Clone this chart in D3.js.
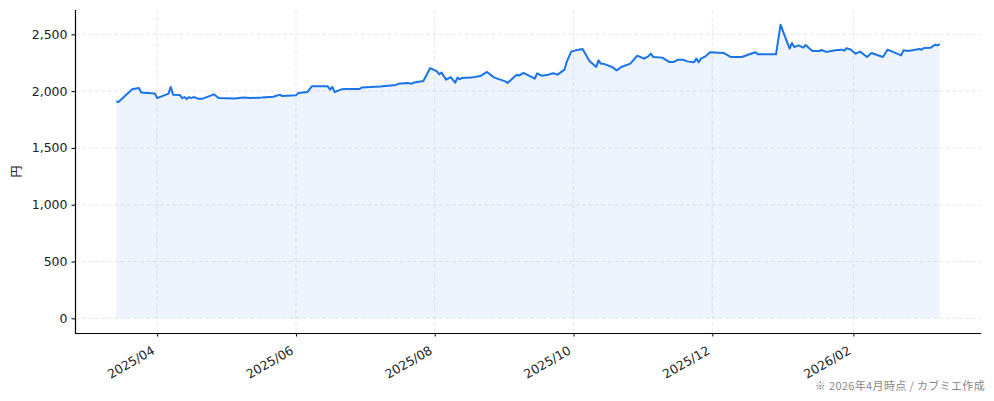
<!DOCTYPE html>
<html>
<head>
    <meta charset="utf-8">
    <script src="https://cdnjs.cloudflare.com/ajax/libs/d3/7.8.5/d3.min.js"></script>
    <style>
        body { margin: 0; background: #fff; }
        .tick text {
            font-family: "DejaVu Sans", sans-serif;
            font-size: 12px;
            fill: #222;
        }
        .grid line {
            stroke: #e2e2e2;
            stroke-width: 0.8px;
            stroke-dasharray: 4,2.5;
        }
        .note {
            font-family: "Noto Sans CJK JP", sans-serif;
            font-size: 11px;
            letter-spacing: 0.35px;
            fill: #888;
        }
    </style>
</head>
<body>
    <div id="chart"></div>
    <script>
        const width = 994, height = 401;
        const margin = { top: 10, right: 13, bottom: 68, left: 75 };

        // price series
        const dates = ["2025-03-14","2025-03-15","2025-03-21","2025-03-24","2025-03-25","2025-03-31","2025-04-01","2025-04-06","2025-04-07","2025-04-08",
            "2025-04-11","2025-04-12","2025-04-13","2025-04-14","2025-04-15","2025-04-16","2025-04-17","2025-04-19","2025-04-21","2025-04-26",
            "2025-04-28","2025-05-05","2025-05-09","2025-05-12","2025-05-17","2025-05-22","2025-05-25","2025-05-26","2025-06-01","2025-06-02",
            "2025-06-06","2025-06-08","2025-06-15","2025-06-16","2025-06-17","2025-06-18","2025-06-21","2025-06-23","2025-06-29","2025-06-30",
            "2025-07-08","2025-07-15","2025-07-16","2025-07-20","2025-07-22","2025-07-23","2025-07-27","2025-07-30","2025-08-02","2025-08-03",
            "2025-08-04","2025-08-06","2025-08-08","2025-08-10","2025-08-11","2025-08-12","2025-08-13","2025-08-17","2025-08-21","2025-08-24",
            "2025-08-27","2025-09-01","2025-09-02","2025-09-06","2025-09-07","2025-09-09","2025-09-14","2025-09-15","2025-09-17","2025-09-20",
            "2025-09-22","2025-09-24","2025-09-27","2025-09-28","2025-09-30","2025-10-02","2025-10-05","2025-10-06","2025-10-08","2025-10-11",
            "2025-10-12","2025-10-13","2025-10-14","2025-10-18","2025-10-20","2025-10-22","2025-10-26","2025-10-29","2025-11-01","2025-11-03",
            "2025-11-04","2025-11-05","2025-11-09","2025-11-12","2025-11-14","2025-11-16","2025-11-18","2025-11-20","2025-11-23","2025-11-24",
            "2025-11-25","2025-11-26","2025-11-28","2025-11-30","2025-12-06","2025-12-09","2025-12-14","2025-12-17","2025-12-20","2025-12-21",
            "2025-12-29","2025-12-31","2026-01-02","2026-01-04","2026-01-05","2026-01-06","2026-01-08","2026-01-10","2026-01-11","2026-01-14",
            "2026-01-17","2026-01-18","2026-01-20","2026-01-24","2026-01-27","2026-01-28","2026-01-29","2026-01-31","2026-02-02","2026-02-04",
            "2026-02-07","2026-02-09","2026-02-14","2026-02-16","2026-02-22","2026-02-23","2026-02-25","2026-03-02","2026-03-03","2026-03-04",
            "2026-03-07","2026-03-09","2026-03-10","2026-03-11"];

        const prices = [1910,1905,2016,2027,1987,1980,1939,1978,2037,1969,
            1966,1939,1948,1931,1948,1939,1948,1934,1934,1972,
            1939,1936,1943,1939,1943,1951,1969,1957,1963,1984,
            1992,2042,2042,2013,2037,1992,2016,2019,2019,2033,
            2040,2054,2066,2071,2066,2077,2089,2203,2174,2148,
            2163,2101,2124,2074,2119,2104,2116,2119,2133,2169,
            2121,2086,2071,2145,2136,2160,2110,2157,2136,2145,
            2157,2145,2189,2257,2348,2359,2371,2336,2266,2213,
            2271,2242,2242,2213,2183,2213,2242,2312,2286,2309,
            2330,2301,2295,2257,2257,2277,2277,2262,2254,2286,
            2254,2286,2306,2342,2336,2301,2301,2322,2342,2324,
            2324,2585,2477,2374,2424,2389,2403,2383,2406,2353,
            2353,2362,2345,2359,2365,2356,2377,2365,2330,2348,
            2301,2336,2301,2365,2315,2359,2353,2371,2365,2380,
            2383,2409,2403,2415];

        const xTickLabels = ["2025/04", "2025/06", "2025/08", "2025/10", "2025/12", "2026/02"];
        const yTicks = [0, 500, 1000, 1500, 2000, 2500];
        const yLabel = "円";
        const note = "※ 2026年4月時点 / カブミエ作成";

        const parseDate = d3.timeParse("%Y-%m-%d");
        const parseTick = d3.timeParse("%Y/%m");
        const data = dates.map((d, i) => ({ date: parseDate(d), value: prices[i] }));
        const tickDates = xTickLabels.map(parseTick);

        const svg = d3.select("#chart").append("svg")
            .attr("width", width).attr("height", height);

        const x0 = margin.left, x1 = width - margin.right;
        const y0 = height - margin.bottom, y1 = margin.top;

        // matplotlib-like 5% padding
        const ext = d3.extent(data, d => d.date);
        const span = ext[1] - ext[0];
        const x = d3.scaleTime()
            .domain([new Date(+ext[0] - span * 0.05), new Date(+ext[1] + span * 0.05)])
            .range([x0, x1]);

        const vmax = d3.max(prices);
        const y = d3.scaleLinear()
            .domain([-vmax * 0.05, vmax * 1.05])
            .range([y0, y1]);

        // grid
        const grid = svg.append("g").attr("class", "grid");
        grid.selectAll(".gy").data(yTicks).enter().append("line")
            .attr("x1", x0).attr("x2", x1)
            .attr("y1", d => y(d)).attr("y2", d => y(d));
        grid.selectAll(".gx").data(tickDates).enter().append("line")
            .attr("x1", d => x(d)).attr("x2", d => x(d))
            .attr("y1", y0).attr("y2", y1);

        // area + line
        const area = d3.area()
            .x(d => x(d.date))
            .y0(y(0))
            .y1(d => y(d.value));
        svg.append("path").datum(data)
            .attr("d", area)
            .attr("fill", "#1a73e8")
            .attr("fill-opacity", 0.08);

        const line = d3.line()
            .x(d => x(d.date))
            .y(d => y(d.value));
        svg.append("path").datum(data)
            .attr("d", line)
            .attr("fill", "none")
            .attr("stroke", "#1a73e8")
            .attr("stroke-width", 2)
            .attr("stroke-linejoin", "round");

        // axes
        const yAxis = svg.append("g")
            .attr("transform", `translate(${x0},0)`)
            .call(d3.axisLeft(y).tickValues(yTicks).tickFormat(d3.format(",")).tickSize(3.5).tickPadding(4));
        yAxis.select(".domain").attr("stroke", "#000").attr("stroke-width", 1.2)
            .attr("d", `M0.5,${y0}V${y1}`);
        yAxis.selectAll(".tick line").attr("stroke", "#000");
        yAxis.selectAll(".tick text").style("font-size", "12.5px");

        const xAxis = svg.append("g")
            .attr("transform", `translate(0,${y0})`)
            .call(d3.axisBottom(x).tickValues(tickDates).tickFormat((d, i) => xTickLabels[i]).tickSize(3.5));
        xAxis.select(".domain").attr("stroke", "#000").attr("stroke-width", 1.2)
            .attr("d", `M${x0},0.5H${x1}`);
        xAxis.selectAll(".tick line").attr("stroke", "#000");
        xAxis.selectAll(".tick text")
            .style("font-size", "12.5px")
            .attr("text-anchor", "end")
            .attr("x", 0).attr("y", 0).attr("dy", 0)
            .attr("transform", "translate(-2,20) rotate(-30)");

        // y label
        svg.append("text")
            .attr("transform", `translate(21,${(y0 + y1) / 2}) rotate(-90)`)
            .attr("text-anchor", "middle")
            .style("font-family", "'Noto Sans CJK JP', sans-serif")
            .style("font-size", "12px")
            .style("fill", "#222")
            .text(yLabel);

        // footnote
        svg.append("text")
            .attr("class", "note")
            .attr("x", 985).attr("y", 390)
            .attr("text-anchor", "end")
            .text(note);
    </script>
</body>
</html>
